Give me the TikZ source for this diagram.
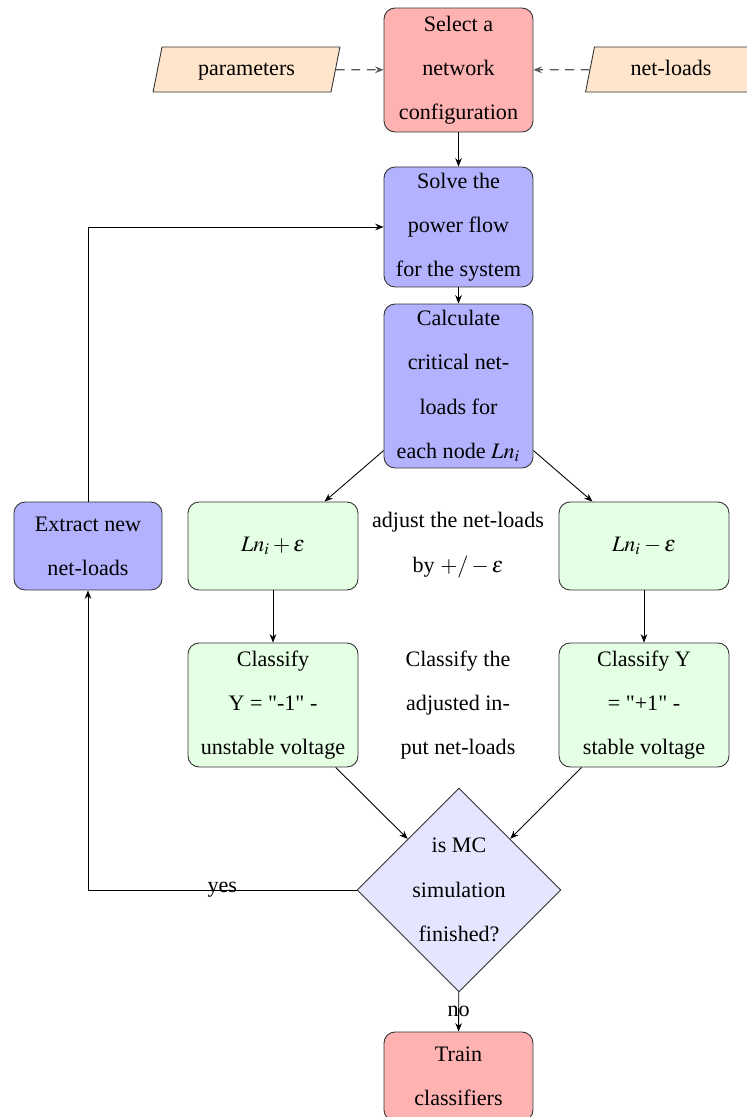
\documentclass[tikz,border=0pt]{standalone}
\usepackage{mathptmx}
\usepackage{fontspec}
\setmainfont{Liberation Serif}[Ligatures=TeXOff]
\usetikzlibrary{shapes.geometric,arrows.meta}

\tikzset{
  txt/.style={align=center, font=\fontsize{10}{20}\selectfont, inner sep=0pt},
  proc/.style={txt, rectangle, rounded corners=5pt, draw=black!80},
  startbox/.style={proc, fill=red!30, minimum width=67.4pt},
  workbox/.style={proc, fill=blue!30, minimum width=67.4pt},
  testbox/.style={proc, fill=green!10, minimum width=76.9pt},
  decide/.style={txt, diamond, aspect=1, draw=black!80, fill=blue!10,
    minimum width=92.3pt, minimum height=92.3pt},
  inbox/.style={txt, trapezium, trapezium left angle=60, trapezium right angle=120,
    trapezium stretches=true, text height=6pt, text depth=1pt,
    draw=black!80, fill=orange!20, inner xsep=16.3pt, minimum height=20.4pt},
  flow/.style={-{Stealth[length=3.8pt,width=3pt]}, black},
  feed/.style={-{Stealth[length=3.8pt,width=3pt]}, black!65, line width=0.55pt,
    dash pattern=on 4pt off 3pt},
}

\begin{document}
\begin{tikzpicture}[x=0.4525pt, y=-0.4525pt]
  \clip (0,0) rectangle (747,1117);

  % main column
  \node[startbox, minimum height=56.1pt] (select) at (458.5,70)
    {Select a\\network\\configuration};
  \node[workbox, minimum height=54.3pt] (solve) at (458.5,227)
    {Solve the\\power flow\\for the system};
  \node[workbox, minimum height=74.2pt] (calc) at (458.5,386)
    {Calculate\\critical net-\\loads for\\each node $Ln_i$};

  % inputs
  \node[inbox] (params) at (246.5,69.5) {parameters};
  \node[inbox] (netl) at (671,69.5) {net-loads};

  % perturbation and classification
  \node[workbox, minimum width=67pt, minimum height=39.8pt] (ext) at (88,546)
    {Extract new\\net-loads};
  \node[testbox, minimum height=39.8pt] (lnp) at (273,546) {$Ln_i+\varepsilon$};
  \node[testbox, minimum height=39.8pt] (lnm) at (644,546) {$Ln_i-\varepsilon$};
  \node[txt] (adjust) at (458,545) {adjust the net-loads\\by $+/-\varepsilon$};

  \node[testbox, minimum height=56.1pt] (cls1) at (273,705)
    {Classify\\Y = "-1" -\\unstable voltage};
  \node[testbox, minimum height=56.1pt] (cls2) at (644,705)
    {Classify Y\\= "+1" -\\stable voltage};
  \node[txt] (note) at (458,705) {Classify the\\adjusted in-\\put net-loads};

  \node[decide] (mc) at (459,890) {is MC\\simulation\\finished?};
  \node[startbox, minimum height=40.3pt] (train) at (458.5,1076.5)
    {Train\\classifiers};

  % connectors
  \draw[feed] (params) -- (select);
  \draw[feed] (netl) -- (select);
  \draw[flow] (select) -- (solve);
  \draw[flow] (solve) -- (calc);
  \draw[flow] (calc) -- (lnp);
  \draw[flow] (calc) -- (lnm);
  \draw[flow] (lnp) -- (cls1);
  \draw[flow] (lnm) -- (cls2);
  \draw[flow] (cls1) -- (mc);
  \draw[flow] (cls2) -- (mc);
  \draw[flow] (mc) -- node[txt] {no} (train);
  \draw[flow] (mc) -| node[txt, pos=0.25] {yes} (ext);
  \draw[flow] (ext) |- (solve);
\end{tikzpicture}
\end{document}
